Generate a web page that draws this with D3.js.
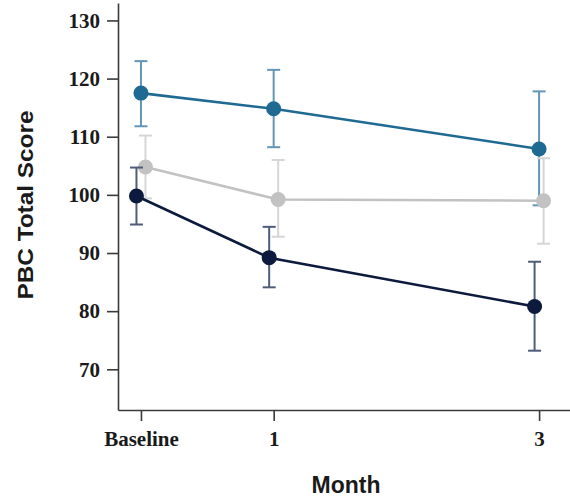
<!DOCTYPE html>
<html><head><meta charset="utf-8">
<script src="https://cdn.jsdelivr.net/npm/d3@7"></script>
<style>body{margin:0;background:#fff;} svg{display:block;}</style>
</head><body>
<svg id="c" width="570" height="499"></svg>
<script>
const months = [0, 1, 3];
const monthLabels = ["Baseline", "1", "3"];
const yTicks = [70, 80, 90, 100, 110, 120, 130];

const tealMean = [117.5, 114.8, 107.9];
const tealLow  = [111.8, 108.2, 98.2];
const tealHigh = [123.0, 121.5, 117.8];

const greyMean = [104.8, 99.2, 99.0];
const greyLow  = [99.4, 92.8, 91.6];
const greyHigh = [110.2, 106.0, 106.3];

const navyMean = [99.8, 89.2, 80.8];
const navyLow  = [94.9, 84.1, 73.2];
const navyHigh = [104.7, 94.5, 88.5];

const series = [
  {mean: tealMean, low: tealLow, high: tealHigh, color: "#1f6a92", err: "#6396b6", dx: 0},
  {mean: greyMean, low: greyLow, high: greyHigh, color: "#c2c2c2", err: "#d6d6d6", dx: 4.5},
  {mean: navyMean, low: navyLow, high: navyHigh, color: "#0c1b3d", err: "#4d5d7a", dx: -4.5}
];

const svg = d3.select("#c");
const x = d3.scaleLinear().domain([-0.173, 3.233]).range([118, 570]);
const y = d3.scaleLinear().domain([63, 133]).range([410, 3]);

// axes
const yAxis = svg.append("g").attr("transform", "translate(118,0)")
  .call(d3.axisLeft(y).tickValues(yTicks).tickSize(11).tickPadding(7).tickSizeOuter(0));
const xAxis = svg.append("g").attr("transform", "translate(0,410)")
  .call(d3.axisBottom(x).tickValues(months).tickFormat((d, i) => monthLabels[i]).tickSize(11).tickPadding(10).tickSizeOuter(0));
[yAxis, xAxis].forEach(g => {
  g.select(".domain").attr("stroke", "#3a3a3a").attr("stroke-width", 1.6);
  g.selectAll(".tick line").attr("stroke", "#3a3a3a").attr("stroke-width", 1.6);
  g.selectAll(".tick text").attr("fill", "#1a1a1a")
    .style("font-family", "'Liberation Serif','Times New Roman',serif")
    .style("font-weight", "bold").style("font-size", "21px");
});

// series
series.forEach(s => {
  const g = svg.append("g");
  const pts = months.map((m, i) => ({x: x(m) + s.dx, m: s.mean[i], lo: s.low[i], hi: s.high[i]}));
  pts.forEach(p => {
    g.append("line").attr("x1", p.x).attr("x2", p.x).attr("y1", y(p.lo)).attr("y2", y(p.hi))
      .attr("stroke", s.err).attr("stroke-width", 2);
    [p.lo, p.hi].forEach(v => {
      g.append("line").attr("x1", p.x - 6.5).attr("x2", p.x + 6.5).attr("y1", y(v)).attr("y2", y(v))
        .attr("stroke", s.err).attr("stroke-width", 2);
    });
  });
  g.append("path").datum(pts)
    .attr("d", d3.line().x(p => p.x).y(p => y(p.m)))
    .attr("fill", "none").attr("stroke", s.color).attr("stroke-width", 2.6);
  g.selectAll("circle").data(pts).enter().append("circle")
    .attr("cx", p => p.x).attr("cy", p => y(p.m)).attr("r", 7.5).attr("fill", s.color);
});

// titles
svg.append("text").attr("x", 346).attr("y", 493).attr("text-anchor", "middle")
  .style("font-family", "'Liberation Sans',Arial,sans-serif").style("font-weight", "bold").style("font-size", "23px")
  .attr("fill", "#1a1a1a").text("Month");
svg.append("text").attr("transform", "translate(33,205) rotate(-90)").attr("text-anchor", "middle")
  .style("font-family", "'Liberation Sans',Arial,sans-serif").style("font-weight", "bold").style("font-size", "22px")
  .attr("fill", "#1a1a1a").attr("textLength", 189).attr("lengthAdjust", "spacingAndGlyphs").text("PBC Total Score");
</script>
</body></html>
